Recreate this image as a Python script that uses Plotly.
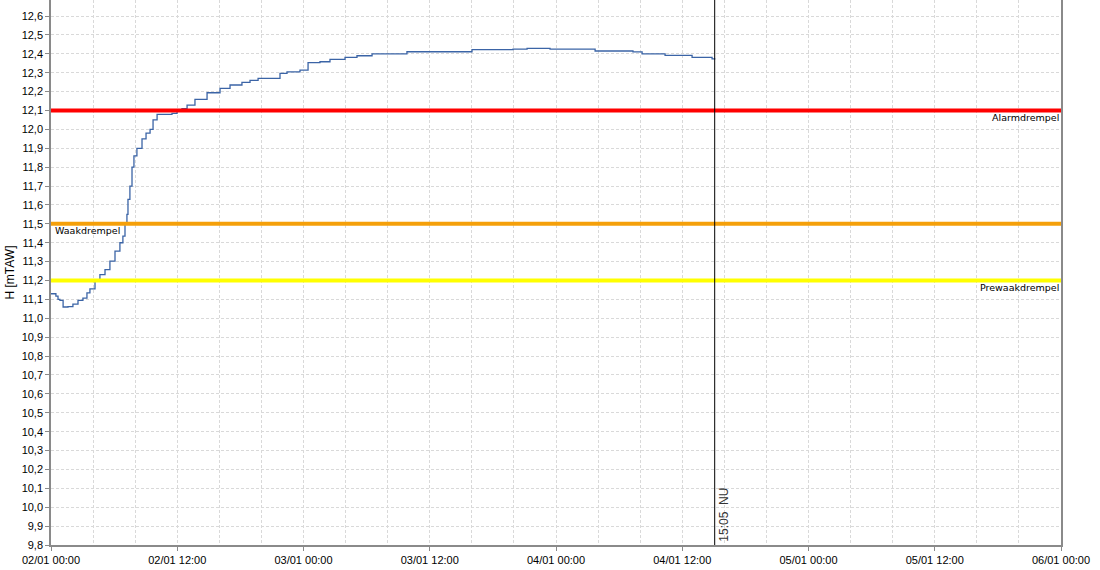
import plotly.graph_objects as go

# --- data ---
times = [
    "2024-01-02 00:00", "2024-01-02 00:28", "2024-01-02 00:40", "2024-01-02 00:51",
    "2024-01-02 01:09", "2024-01-02 01:37", "2024-01-02 02:05", "2024-01-02 02:34",
    "2024-01-02 03:02", "2024-01-02 03:25", "2024-01-02 03:42", "2024-01-02 04:11",
    "2024-01-02 04:39", "2024-01-02 05:08", "2024-01-02 05:36", "2024-01-02 06:05",
    "2024-01-02 06:33", "2024-01-02 06:50", "2024-01-02 07:02", "2024-01-02 07:13",
    "2024-01-02 07:19", "2024-01-02 07:30", "2024-01-02 07:42", "2024-01-02 07:53",
    "2024-01-02 08:10", "2024-01-02 08:39", "2024-01-02 09:02", "2024-01-02 09:25",
    "2024-01-02 09:42", "2024-01-02 10:05", "2024-01-02 11:30", "2024-01-02 11:59",
    "2024-01-02 12:27", "2024-01-02 12:56", "2024-01-02 13:41", "2024-01-02 14:50",
    "2024-01-02 16:04", "2024-01-02 17:01", "2024-01-02 18:09", "2024-01-02 18:55",
    "2024-01-02 19:41", "2024-01-02 21:46", "2024-01-02 22:26", "2024-01-02 23:40",
    "2024-01-03 00:26", "2024-01-03 01:34", "2024-01-03 02:31", "2024-01-03 03:57",
    "2024-01-03 05:05", "2024-01-03 06:31", "2024-01-03 09:50", "2024-01-03 16:01",
    "2024-01-03 19:55", "2024-01-03 21:15", "2024-01-03 23:26", "2024-01-04 03:43",
    "2024-01-04 07:19", "2024-01-04 08:11", "2024-01-04 10:22", "2024-01-04 12:56",
    "2024-01-04 14:50", "2024-01-04 15:05",
]
levels = [
    11.13, 11.117, 11.10, 11.095,
    11.06, 11.062, 11.075, 11.095,
    11.107, 11.135, 11.156, 11.20,
    11.231, 11.258, 11.303, 11.356,
    11.40, 11.435, 11.50, 11.55,
    11.63, 11.70, 11.80, 11.86,
    11.90, 11.95, 11.98, 12.00,
    12.05, 12.08, 12.085, 12.095,
    12.11, 12.129, 12.159, 12.194,
    12.217, 12.235, 12.249, 12.26,
    12.27, 12.297, 12.305, 12.314,
    12.353, 12.358, 12.371, 12.381,
    12.39, 12.40, 12.411, 12.422,
    12.425, 12.429, 12.425, 12.415,
    12.41, 12.40, 12.392, 12.381,
    12.373, 12.37,
]

threshold_names = ["Alarmdrempel", "Waakdrempel", "Prewaakdrempel"]
threshold_values = [12.1, 11.5, 11.2]
threshold_colors = ["#ff0000", "#f5a00a", "#ffff00"]

now_time = "2024-01-04 15:05"
now_label = "15:05  NU"

x_range = ["2024-01-02 00:00", "2024-01-06 00:00"]
y_range = [9.8, 12.685]
y_title = "H [mTAW]"

fig = go.Figure()

fig.add_trace(go.Scatter(
    x=times, y=levels, mode="lines", line_shape="hv",
    line=dict(color="#3b64a6", width=1.3), showlegend=False,
))

for name, val, col in zip(threshold_names, threshold_values, threshold_colors):
    fig.add_shape(type="line", xref="paper", yref="y", x0=0, x1=1, y0=val, y1=val,
                  line=dict(color=col, width=4), layer="above")

# threshold labels
label_pos = {"Alarmdrempel": ("right", 1.0), "Waakdrempel": ("left", 0.002),
             "Prewaakdrempel": ("right", 1.0)}
for name, val in zip(threshold_names, threshold_values):
    anchor, xp = label_pos[name]
    fig.add_annotation(x=xp, xref="paper", y=val, yref="y", text=name,
                       showarrow=False, xanchor=anchor, yanchor="top", yshift=1,
                       font=dict(family="DejaVu Sans", size=9.5, color="#000000"))

fig.add_shape(type="line", xref="x", yref="paper", x0=now_time, x1=now_time, y0=0, y1=1,
              line=dict(color="#000000", width=1), layer="above")
fig.add_annotation(x=now_time, xref="x", y=0, yref="paper", text=now_label,
                   textangle=-90, showarrow=False, xanchor="left", yanchor="bottom",
                   xshift=0, yshift=1,
                   font=dict(family="Liberation Sans", size=12, color="#333333"))

grid_col = "#d9d9d9"
fig.update_layout(
    width=1100, height=570,
    margin=dict(l=51, r=39, t=0, b=25),
    paper_bgcolor="white", plot_bgcolor="white",
    separators=",.",
    font=dict(family="Liberation Sans", size=11, color="#000000"),
    xaxis=dict(
        type="date", range=x_range, automargin=False,
        dtick=12 * 3600 * 1000, tick0="2024-01-02 00:00",
        tickformat="%d/%m %H:%M",
        showgrid=True, gridcolor=grid_col, griddash="3px,2px", gridwidth=1,
        minor=dict(dtick=4 * 3600 * 1000, showgrid=True, gridcolor=grid_col,
                   griddash="3px,2px", gridwidth=1),
        showline=True, linecolor="#8a8a8a", linewidth=1.5,
        ticks="outside", ticklen=4, tickcolor="#8a8a8a",
        zeroline=False, tickfont=dict(size=11),
    ),
    yaxis=dict(
        range=y_range, dtick=0.1, tick0=9.8, tickformat=".1f", automargin=False,
        showgrid=True, gridcolor=grid_col, griddash="3px,2px", gridwidth=1,
        showline=True, linecolor="#8a8a8a", linewidth=1.5, mirror=True,
        ticks="outside", ticklen=4, tickcolor="#8a8a8a",
        zeroline=False, tickfont=dict(size=11),
        title=dict(text=y_title, standoff=4, font=dict(size=12)),
    ),
)

fig.write_html(
    "out.html",
    config={"displayModeBar": False},
    post_script="document.body.style.margin='0';document.body.style.overflow='hidden';",
)
